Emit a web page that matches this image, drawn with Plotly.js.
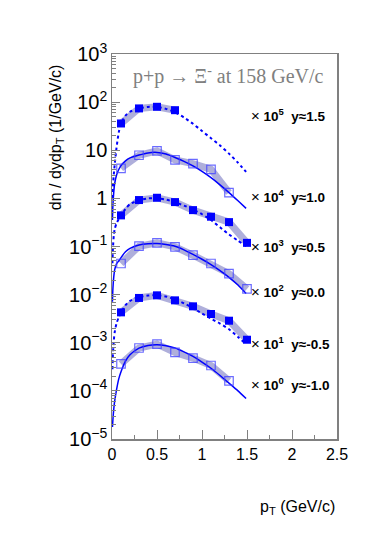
<!DOCTYPE html>
<html>
<head>
<meta charset="utf-8">
<script src="https://cdn.plot.ly/plotly-3.0.1.min.js"></script>
<style>html,body{margin:0;padding:0;background:#fff;}#chart{width:374px;height:550px;}</style>
</head>
<body>
<div id="chart"></div>
<script>
// ---- data (plotted values, already multiplied by the scale factor of each rapidity bin) ----
const rapidityLabels = ['1.5', '1.0', '0.5', '0.0', '-0.5', '-1.0'];
const scaleExponents = [5, 4, 3, 2, 1, 0];

const ptPoints = [0.1, 0.3, 0.5, 0.7, 0.9, 1.1, 1.3, 1.5];

const yield_y15  = [36, 74, 80, 68];                                          // x10^5, filled
const yield_y10  = [4.22, 7.87, 9.66, 6.28, 5.28, 4.02, 1.32];                // x10^4, open
const yield_y05  = [0.443, 0.923, 1.03, 0.837, 0.570, 0.416, 0.321, 0.119];   // x10^3, filled
const yield_y00  = [0.0443, 0.1014, 0.1194, 0.0986, 0.0659, 0.0443, 0.0274, 0.01315]; // x10^2, open
const yield_ym05 = [0.00428, 0.00853, 0.00967, 0.00760, 0.00571, 0.00396, 0.00287, 0.001155]; // x10^1, filled
const yield_ym10 = [3.65e-4, 7.77e-4, 9.39e-4, 6.28e-4, 4.80e-4, 3.37e-4, 1.62e-4];  // x10^0, open

// fit curves
const curvePt = [0.005, 0.01, 0.02, 0.03, 0.05, 0.075, 0.1, 0.15, 0.2, 0.3, 0.4, 0.5, 0.6, 0.7, 0.8, 0.9, 1.0, 1.1, 1.2, 1.3, 1.4, 1.49];
const fit_y15  = [1.0, 1.78, 3.16, 5.01, 11.2, 23.4, 35.5, 52.5, 63.1, 74.1, 79.4, 79.4, 72.4, 61.7, 47.9, 35.5, 25.1, 17.8, 12.6, 8.51, 5.50, 3.55];
const fit_y10  = [0.355, 0.71, 1.38, 2.04, 3.02, 3.98, 4.79, 6.03, 6.92, 7.94, 8.81, 9.02, 8.32, 7.08, 5.89, 4.73, 3.63, 2.69, 1.91, 1.32, 0.89, 0.62];
const fit_y05  = [0.0447, 0.0891, 0.170, 0.229, 0.302, 0.372, 0.437, 0.603, 0.759, 0.912, 1.0, 1.01, 0.944, 0.832, 0.708, 0.589, 0.468, 0.355, 0.251, 0.178, 0.132, 0.102];
const fit_y00  = [0.00708, 0.0132, 0.0240, 0.0331, 0.0437, 0.0501, 0.0589, 0.0776, 0.0912, 0.107, 0.1135, 0.1148, 0.1096, 0.1012, 0.0851, 0.0684, 0.0543, 0.0422, 0.0316, 0.0229, 0.0158, 0.0105];
const fit_ym05 = [2.82e-4, 5.62e-4, 1.12e-3, 1.66e-3, 2.51e-3, 3.39e-3, 4.17e-3, 6.03e-3, 7.41e-3, 8.91e-3, 9.55e-3, 9.66e-3, 9.12e-3, 7.94e-3, 6.61e-3, 5.25e-3, 4.07e-3, 3.16e-3, 2.51e-3, 1.91e-3, 1.32e-3, 9.33e-4];
const fit_ym10 = [1.78e-5, 2.51e-5, 4.27e-5, 6.17e-5, 1.05e-4, 1.78e-4, 2.51e-4, 4.17e-4, 5.62e-4, 7.76e-4, 8.81e-4, 9.12e-4, 8.71e-4, 7.76e-4, 6.46e-4, 5.19e-4, 3.98e-4, 2.95e-4, 2.09e-4, 1.45e-4, 1.00e-4, 6.92e-5];

// ---- styling ----
const series = [
  {y: yield_y15,  fit: fit_y15,  filled: true},
  {y: yield_y10,  fit: fit_y10,  filled: false},
  {y: yield_y05,  fit: fit_y05,  filled: true},
  {y: yield_y00,  fit: fit_y00,  filled: false},
  {y: yield_ym05, fit: fit_ym05, filled: true},
  {y: yield_ym10, fit: fit_ym10, filled: false}
];
const labelLogY = [1.73, 0.05, -0.99, -1.93, -3.0, -3.86];

const bandColor = 'rgba(110,110,190,0.55)';
const blue = '#0000ff';
const traces = [];
series.forEach(s => {
  traces.push({x: ptPoints.slice(0, s.y.length), y: s.y, type: 'scatter', mode: 'lines',
    line: {color: bandColor, width: 7}, hoverinfo: 'skip'});
});
series.forEach(s => {
  traces.push({x: curvePt, y: s.fit, type: 'scatter', mode: 'lines',
    line: {color: blue, width: s.filled ? 2 : 1.5, dash: s.filled ? 'dot' : 'solid', shape: 'spline', smoothing: 0.6}});
});
series.forEach(s => {
  traces.push({x: ptPoints.slice(0, s.y.length), y: s.y, type: 'scatter', mode: 'markers',
    marker: s.filled ? {symbol: 'square', size: 8, color: blue, line: {width: 0}}
                     : {symbol: 'square-open', size: 8.5, color: 'rgba(70,70,255,0.8)', line: {width: 1.2, color: 'rgba(70,70,255,0.8)'}}});
});

const annotations = rapidityLabels.map((r, i) => ({
  xref: 'x', yref: 'y', x: 1.52, y: labelLogY[i], xanchor: 'left', yanchor: 'middle', showarrow: false,
  text: '<span style="font-size:15px">\u00d7</span> <b>10<sup>' + scaleExponents[i] + '</sup>\u00a0\u00a0y\u2248' + r + '</b>',
  font: {family: 'Liberation Sans, Arial, sans-serif', size: 13.5, color: '#000'}
}));
annotations.push({
  xref: 'paper', yref: 'paper', x: 0.084, y: 0.945, xanchor: 'left', yanchor: 'middle', showarrow: false,
  text: 'p+p \u2192 \u039e<sup>-</sup> at 158 GeV/c',
  font: {family: 'Liberation Serif, Times New Roman, serif', size: 20, color: '#808080'}
});
annotations.push({
  xref: 'paper', yref: 'paper', x: -0.249, y: 0.784, xanchor: 'center', yanchor: 'middle', showarrow: false,
  textangle: -90, text: 'dn / dydp<sub>T</sub> (1/GeV/c)',
  font: {family: 'Liberation Sans, Arial, sans-serif', size: 16, color: '#000'}
});
annotations.push({
  xref: 'paper', yref: 'paper', x: 1.0, y: -0.177, xanchor: 'right', yanchor: 'middle', showarrow: false,
  text: 'p<sub>T</sub> (GeV/c)',
  font: {family: 'Liberation Sans, Arial, sans-serif', size: 16, color: '#000'}
});

const axisColor = '#808080';
const layout = {
  width: 374, height: 550,
  margin: {l: 112, r: 37, t: 54, b: 111},
  paper_bgcolor: '#fff', plot_bgcolor: '#fff',
  showlegend: false,
  font: {family: 'Liberation Sans, Arial, sans-serif', size: 16, color: '#000'},
  xaxis: {
    range: [0, 2.5], dtick: 0.5, tick0: 0, showgrid: false, zeroline: false,
    showline: true, linecolor: axisColor, linewidth: 1.5, mirror: true,
    ticks: 'inside', ticklen: 9, tickcolor: axisColor, tickwidth: 1,
    minor: {dtick: 0.25, ticks: 'inside', ticklen: 4.5, tickcolor: axisColor, showgrid: false},
    tickfont: {size: 16}
  },
  yaxis: {
    type: 'log', range: [-5, 3], dtick: 1, exponentformat: 'power', showgrid: false, zeroline: false,
    showline: true, linecolor: axisColor, linewidth: 1.5, mirror: true,
    ticks: 'inside', ticklen: 8, tickcolor: axisColor, tickwidth: 1,
    minor: {dtick: 'D1', ticks: 'inside', ticklen: 4, tickcolor: axisColor, showgrid: false},
    tickfont: {size: 16}
  },
  annotations: annotations
};

Plotly.newPlot('chart', traces, layout, {staticPlot: true, displayModeBar: false});
</script>
</body>
</html>
